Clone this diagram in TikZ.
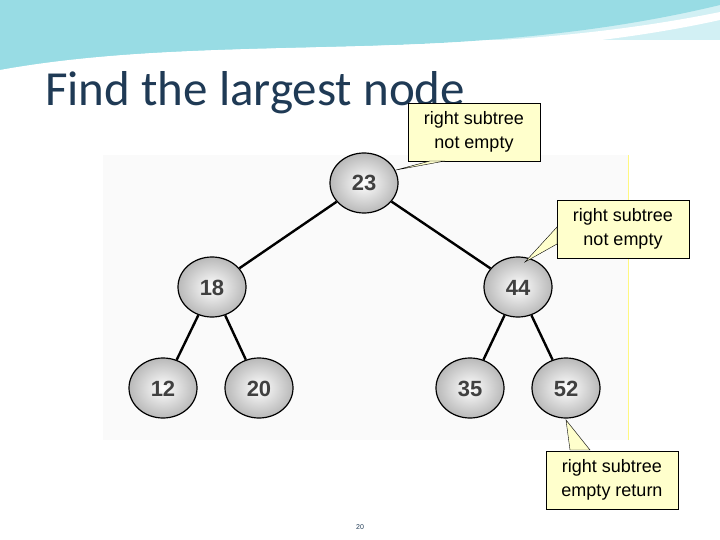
\documentclass[tikz,border=0pt]{standalone}
\usepackage{fontspec}
\setmainfont{Liberation Sans}
\newfontfamily\titlefont{Carlito}
\usetikzlibrary{shapes.geometric}
\definecolor{titleblue}{HTML}{1F3A55}
\definecolor{wave}{HTML}{7FD3DE}
\definecolor{callfill}{HTML}{FFFFCC}
\tikzset{
  treenode/.style={draw=black, line width=1.2pt, ellipse, minimum width=68pt, minimum height=60pt,
    inner color=white, outer color=gray!55, font=\bfseries\fontsize{22}{22}\selectfont,
    text height=16pt, text depth=0pt, text=black!75},
  edge/.style={line width=2.4pt},
  callout/.style={draw=black, fill=callfill, align=center, font=\fontsize{18}{24}\selectfont, minimum width=132pt, minimum height=58pt, inner sep=2pt}
}
\begin{document}
\begin{tikzpicture}[x=1pt, y=-1pt]
  \useasboundingbox (0,0) rectangle (720,540);
  % header wave
  \fill[wave!35] (0,0) rectangle (720,40);
  \fill[wave!80] (0,72) .. controls (200,30) and (450,70) .. (720,5) -- (720,0) -- (0,0) -- cycle;
  \fill[white] (0,80) .. controls (220,40) and (470,75) .. (720,20) -- (720,12) .. controls (460,65) and (210,32) .. (0,70) -- cycle;
  % title
  \node[anchor=base west, font=\titlefont\fontsize{49}{49}\selectfont, text=titleblue, inner sep=0pt] (title) at (45,106) {Find the largest node};
  % picture area
  \fill[gray!4] (103,155) rectangle (628,440);
  \draw[yellow!50!white, line width=1pt] (628,155) -- (628,440);
  % tree
  \node[treenode] (n23) at (364,183) {23};
  \node[treenode] (n18) at (212,287) {18};
  \node[treenode] (n44) at (518,287) {44};
  \node[treenode] (n12) at (163,388) {12};
  \node[treenode] (n20) at (259,388) {20};
  \node[treenode] (n35) at (470,388) {35};
  \node[treenode] (n52) at (566,388) {52};
  \draw[edge] (n23) -- (n18);
  \draw[edge] (n23) -- (n44);
  \draw[edge] (n18) -- (n12);
  \draw[edge] (n18) -- (n20);
  \draw[edge] (n44) -- (n35);
  \draw[edge] (n44) -- (n52);
  % callouts
  \node[callout] (c1) at (474,132) {right subtree\\not empty};
  \coordinate (p1) at (396,170);
  \filldraw[draw=black, fill=callfill] (p1) -- (430,161) -- (445,161) -- cycle;
  \node[callout] (c2) at (623,229) {right subtree\\not empty};
  \coordinate (p2) at (525,262);
  \filldraw[draw=black, fill=callfill] (p2) -- (557,227) -- (557,244) -- cycle;
  \node[callout] (c3) at (612,480) {right subtree\\empty return};
  \coordinate (p3) at (566,420);
  \filldraw[draw=black, fill=callfill] (p3) -- (570,450) -- (590,450) -- cycle;
  % page number
  \node[font=\scriptsize, text=titleblue] (pg) at (360,527) {20};
\end{tikzpicture}
\end{document}
